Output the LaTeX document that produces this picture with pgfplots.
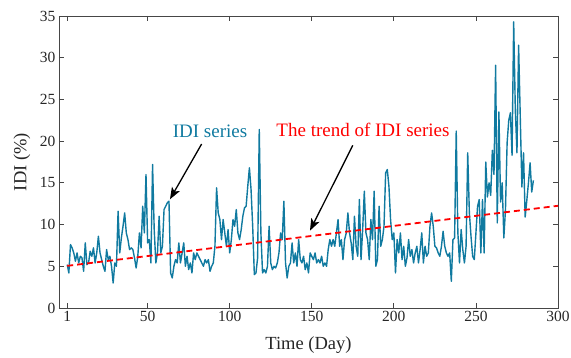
\documentclass[border=0pt]{standalone}
\usepackage{fontspec}
\setmainfont{Liberation Serif}
\usepackage{pgfplots}
\pgfplotsset{compat=1.18}
\usepackage{pgfplotstable}
\usetikzlibrary{arrows.meta}
\definecolor{idi}{RGB}{16,122,160}
\definecolor{axgray}{RGB}{70,70,70}

\pgfplotstableread{
d v
1 5.2
2 4.2
3 7.6
4 7.2
5 6.6
6 5.6
7 6.6
8 5.4
9 6.2
10 6.0
11 4.4
12 7.8
13 5.2
14 5.4
15 6.8
16 6.2
17 7.2
18 5.4
19 6.6
20 8.6
21 6.6
22 5.8
23 5.0
24 4.4
25 7.0
26 5.8
27 6.2
28 5.0
29 3.0
30 5.4
31 5.0
32 11.6
33 6.6
34 8.4
35 9.8
36 11.4
37 9.0
38 8.2
39 7.0
40 7.2
41 7.0
42 6.0
43 4.8
44 6.2
45 9.0
46 7.2
47 12.2
48 9.0
49 16.0
50 7.8
51 8.2
52 5.4
53 17.2
54 9.4
55 5.4
56 6.6
57 11.0
58 6.6
59 7.4
60 11.8
61 12.2
62 12.6
63 12.8
64 4.2
65 3.6
66 5.0
67 5.8
68 5.4
69 7.8
70 5.4
71 6.6
72 7.8
73 5.0
74 6.2
75 4.6
76 5.4
77 4.2
78 6.6
79 5.8
80 6.6
81 6.2
82 5.8
83 5.4
84 5.0
85 5.8
86 5.4
87 5.8
88 4.4
89 5.0
90 5.4
91 7.4
92 14.4
93 11.4
94 10.6
95 8.2
96 10.6
97 9.0
98 7.4
99 9.4
100 6.6
101 8.2
102 10.6
103 9.8
104 11.8
105 9.0
106 8.2
107 9.4
108 11.0
109 12.0
110 12.2
111 14.6
112 16.8
113 14.2
114 9.8
115 4.0
116 4.2
117 6.0
118 21.4
119 9.0
120 4.2
121 4.6
122 4.2
123 5.0
124 9.8
125 5.4
126 4.6
127 5.0
128 4.8
129 5.4
130 6.6
131 9.0
132 8.2
133 12.8
134 5.4
135 3.6
136 5.0
137 5.4
138 7.8
139 5.4
140 6.6
141 5.0
142 8.2
143 5.8
144 5.4
145 6.2
146 4.6
147 5.4
148 4.2
149 6.6
150 6.2
151 5.8
152 6.6
153 5.4
154 5.8
155 5.4
156 6.2
157 5.0
158 5.4
159 5.0
160 7.0
161 8.2
162 7.4
163 8.2
164 7.4
165 9.0
166 10.6
167 7.4
168 8.2
169 5.8
170 8.2
171 9.0
172 11.4
173 9.0
174 7.8
175 5.8
176 11.0
177 7.4
178 6.2
179 13.0
180 5.8
181 9.4
182 14.0
183 9.0
184 8.2
185 5.8
186 10.6
187 8.2
188 14.0
189 5.0
190 5.8
191 12.2
192 7.4
193 8.2
194 9.8
195 16.2
196 16.6
197 14.6
198 10.6
199 8.2
200 9.0
201 4.2
202 8.2
203 6.6
204 9.0
205 5.8
206 7.4
207 5.0
208 6.0
209 8.2
210 6.2
211 7.0
212 5.4
213 6.6
214 7.4
215 5.4
216 7.0
217 9.0
218 5.4
219 7.4
220 6.2
221 6.6
222 9.8
223 11.4
224 9.8
225 7.4
226 7.2
227 6.6
228 6.2
229 7.4
230 9.2
231 7.4
232 6.6
233 6.2
234 6.6
235 3.2
236 8.2
237 8.4
238 21.2
239 9.0
240 5.4
241 9.4
242 7.0
243 5.4
244 7.4
245 18.6
246 11.4
247 8.6
248 6.2
249 5.8
250 9.0
251 12.2
252 13.0
253 6.6
254 13.0
255 6.6
256 17.5
257 13.3
258 15.0
259 13.5
260 18.9
261 16.0
262 29.1
263 10.2
264 23.5
265 12.7
266 15.0
267 8.4
268 11.8
269 19.8
270 22.5
271 23.4
272 18.3
273 34.3
274 23.7
275 18.6
276 31.5
277 23.0
278 14.5
279 18.6
280 10.9
281 12.9
282 15.0
283 17.4
284 13.9
285 15.3
}\ididata

\begin{document}
\begin{tikzpicture}
\path[use as bounding box] (-59pt,-50pt) rectangle (512pt,308pt);
\begin{axis}[
  at={(0pt,0pt)}, anchor=south west,
  scale only axis, width=499pt, height=292pt,
  xmin=-4, xmax=300, ymin=0, ymax=35,
  xtick={1,50,100,150,200,250,300},
  ytick={0,5,10,15,20,25,30,35},
  tick align=inside, major tick length=5pt,
  axis line style={axgray, line width=0.8pt},
  every tick/.style={axgray, line width=0.8pt},
  tick label style={font=\fontsize{15.5}{18}\selectfont, text=black!85},
  /pgf/number format/assume math mode=true,
  xlabel={Time (Day)}, ylabel={IDI (\%)},
  label style={font=\fontsize{18.5}{22}\selectfont, text=black!85},
  xlabel style={at={(axis description cs:0.5,-0.1267)}, anchor=center},
  ylabel style={at={(axis description cs:-0.0741,0.5)}, anchor=center, rotate=0},
]
\addplot[color=idi, line width=1.4pt, line join=round] table[x=d, y=v] {\ididata};
\addplot[color=red, line width=1.8pt, dash pattern=on 6pt off 4pt] coordinates {(1,5.05) (300,12.25)};
\node[text=idi, font=\fontsize{19}{22}\selectfont] at (axis cs:88,21.2) {IDI series};
\node[text=red, font=\fontsize{19}{22}\selectfont] at (axis cs:181.2,21.3) {The trend of IDI series};
\draw[-{Stealth[length=12pt,width=9pt,inset=3pt]}, line width=1.3pt] (axis cs:82.9,19.66) -- (axis cs:63.6,13.03);
\draw[-{Stealth[length=12pt,width=9pt,inset=3pt]}, line width=1.3pt] (axis cs:175,19.5) -- (axis cs:148.9,9.27);
\end{axis}
\end{tikzpicture}
\end{document}
